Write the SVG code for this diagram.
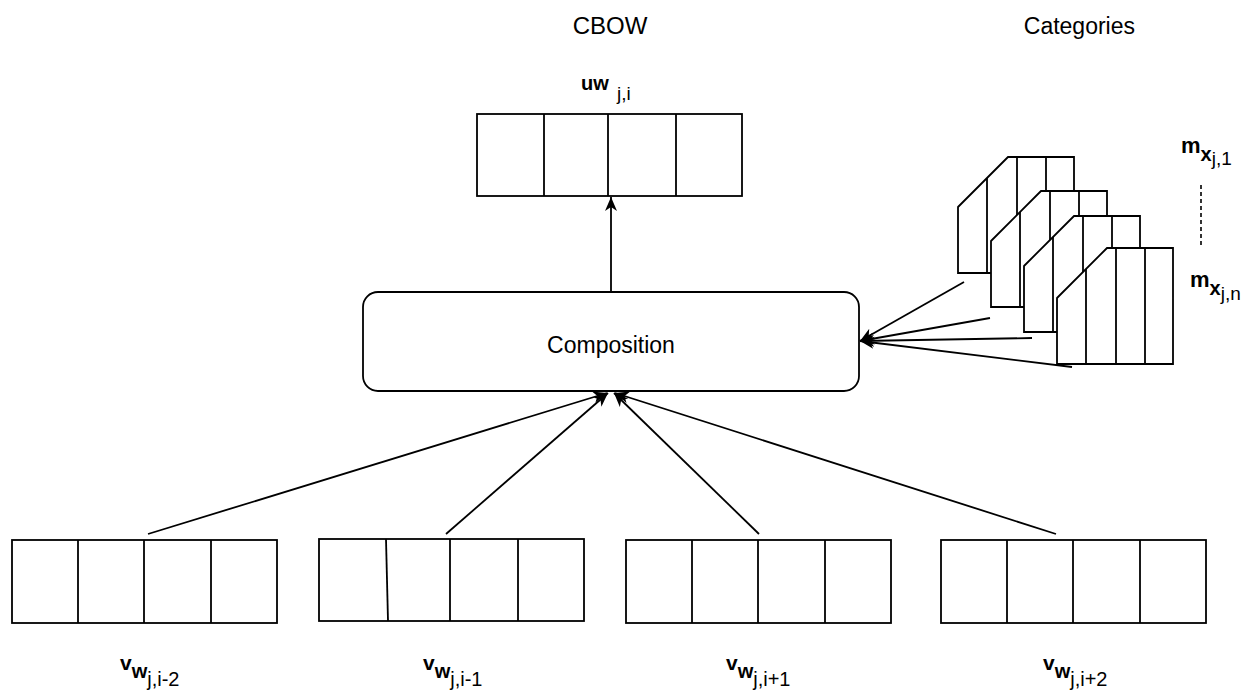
<svg xmlns="http://www.w3.org/2000/svg" xmlns:xlink="http://www.w3.org/1999/xlink" width="1246" height="694" viewBox="0 0 1246 694">
  <style>
    .box { fill: #ffffff; stroke: #000000; stroke-width: 1.8; }
    .div { stroke: #000000; stroke-width: 1.8; fill: none; }
    .edge { stroke: #000000; stroke-width: 1.8; fill: none; marker-end: url(#arrow); }
    .t { font-family: "Liberation Sans", Arial, Helvetica, sans-serif; fill: #000000; }
    .b { font-weight: bold; }
  </style>
  <defs>
    <marker id="arrow" markerUnits="userSpaceOnUse" markerWidth="16" markerHeight="14" refX="14" refY="6" orient="auto">
      <path d="M0,0 L14,6 L0,12 L4,6 Z" fill="#000000"/>
    </marker>
    <g id="vec">
      <rect class="box" x="0" y="0" width="265" height="83"/>
      <line class="div" x1="66" y1="0" x2="66" y2="83"/>
      <line class="div" x1="132" y1="0" x2="132" y2="83"/>
      <line class="div" x1="199" y1="0" x2="199" y2="83"/>
    </g>
    <g id="frame">
      <polygon class="box" points="0,50 50,0 116,0 116,116 0,116"/>
      <line class="div" x1="29" y1="21" x2="29" y2="116"/>
      <line class="div" x1="59" y1="0" x2="59" y2="116"/>
      <line class="div" x1="88" y1="0" x2="88" y2="116"/>
    </g>
  </defs>
  <rect width="1246" height="694" fill="#ffffff"/>

  <text class="t" x="610" y="34" font-size="24" text-anchor="middle">CBOW</text>
  <text class="t" x="1135" y="34" font-size="23" text-anchor="end">Categories</text>

  <g id="connectors">
    <line class="edge" x1="611" y1="292" x2="611" y2="197"/>
    <line class="edge" x1="148" y1="534" x2="607" y2="393"/>
    <line class="edge" x1="446" y1="534" x2="608" y2="393"/>
    <line class="edge" x1="759" y1="534" x2="614" y2="393"/>
    <line class="edge" x1="1056" y1="534" x2="615" y2="393"/>
    <line class="edge" x1="964" y1="282" x2="860" y2="341"/>
    <line class="edge" x1="990" y1="318" x2="860" y2="341"/>
    <line class="edge" x1="1032" y1="338" x2="860" y2="341"/>
    <line class="edge" x1="1072" y1="367" x2="860" y2="341"/>
  </g>

  <g id="uw">
    <rect class="box" x="477" y="114" width="265" height="82"/>
    <line class="div" x1="544" y1="114" x2="544" y2="196"/>
    <line class="div" x1="608" y1="114" x2="608" y2="196"/>
    <line class="div" x1="676" y1="114" x2="676" y2="196"/>
    <text class="t" x="581" y="90"><tspan class="b" font-size="20">uw</tspan><tspan x="617" y="100" font-size="19">j,i</tspan></text>
  </g>

  <g id="composition">
    <rect class="box" x="363" y="292" width="496" height="99" rx="15" ry="15"/>
    <text class="t" x="611" y="353" font-size="23" text-anchor="middle">Composition</text>
  </g>

  <g id="v1">
    <use xlink:href="#vec" x="12" y="540"/>
    <text class="t" x="120" y="670"><tspan class="b" font-size="21">v</tspan><tspan class="b" font-size="20" dy="8">w</tspan><tspan font-size="20" dy="8">j,i-2</tspan></text>
  </g>
  <g id="v2">
    <rect class="box" x="319" y="539" width="265" height="82"/>
    <line class="div" x1="386" y1="539" x2="388" y2="621"/>
    <line class="div" x1="450" y1="539" x2="450" y2="621"/>
    <line class="div" x1="518" y1="539" x2="518" y2="621"/>
    <text class="t" x="423" y="670"><tspan class="b" font-size="21">v</tspan><tspan class="b" font-size="20" dy="8">w</tspan><tspan font-size="20" dy="8">j,i-1</tspan></text>
  </g>
  <g id="v3">
    <use xlink:href="#vec" x="626" y="540"/>
    <text class="t" x="726" y="670"><tspan class="b" font-size="21">v</tspan><tspan class="b" font-size="20" dy="8">w</tspan><tspan font-size="20" dy="8">j,i+1</tspan></text>
  </g>
  <g id="v4">
    <use xlink:href="#vec" x="941" y="540"/>
    <text class="t" x="1043" y="670"><tspan class="b" font-size="21">v</tspan><tspan class="b" font-size="20" dy="8">w</tspan><tspan font-size="20" dy="8">j,i+2</tspan></text>
  </g>

  <g id="cat1"><use xlink:href="#frame" transform="translate(958,157)"/></g>
  <g id="cat2"><use xlink:href="#frame" transform="translate(991,191)"/></g>
  <g id="cat3"><use xlink:href="#frame" transform="translate(1024,216)"/></g>
  <g id="cat4"><use xlink:href="#frame" transform="translate(1057,248)"/></g>

  <g id="mlabels">
    <text class="t" x="1181" y="153"><tspan class="b" font-size="22">m</tspan><tspan class="b" font-size="20" dy="8">x</tspan><tspan font-size="19" dy="4">j,1</tspan></text>
    <line x1="1201" y1="185" x2="1201" y2="248" stroke="#000000" stroke-width="1.6" stroke-dasharray="4 3"/>
    <text class="t" x="1190" y="287"><tspan class="b" font-size="22">m</tspan><tspan class="b" font-size="20" dy="8">x</tspan><tspan font-size="19" dy="5">j,n</tspan></text>
  </g>
</svg>
